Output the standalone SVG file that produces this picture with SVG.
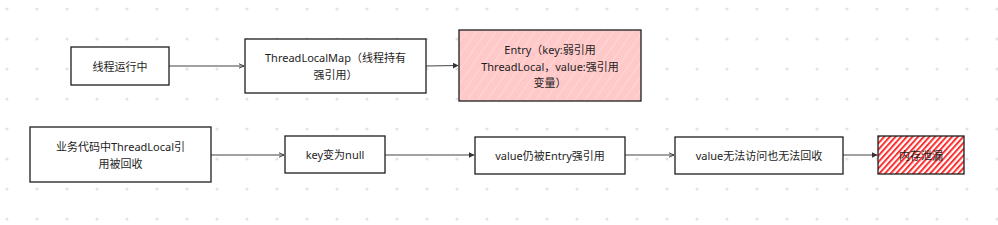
<svg xmlns="http://www.w3.org/2000/svg" width="998" height="225" viewBox="0 0 998 225">
<defs>
<pattern id="dots" x="7" y="9" width="30" height="30" patternUnits="userSpaceOnUse"><circle cx="0" cy="0" r="1.6" fill="#e3e3e3"/><circle cx="30" cy="0" r="1.6" fill="#e3e3e3"/><circle cx="0" cy="30" r="1.6" fill="#e3e3e3"/><circle cx="30" cy="30" r="1.6" fill="#e3e3e3"/></pattern>
<pattern id="pink" width="8" height="8" patternUnits="userSpaceOnUse" patternTransform="rotate(35)"><rect width="8" height="8" fill="#ffc9c9"/><line x1="0" y1="0" x2="0" y2="8" stroke="#ffe6e6" stroke-width="1"/></pattern>
<pattern id="red" width="4.2" height="4.2" patternUnits="userSpaceOnUse" patternTransform="rotate(42)"><rect width="4.2" height="4.2" fill="#ffffff"/><line x1="1" y1="0" x2="1" y2="4.2" stroke="#fa3030" stroke-width="2"/></pattern>
<marker id="af" viewBox="0 0 10 10" refX="9" refY="5" markerWidth="6" markerHeight="6" orient="auto" markerUnits="userSpaceOnUse"><path d="M0,0 L10,5 L0,10 Z" fill="#333"/></marker>
<marker id="ao" viewBox="0 0 10 10" refX="9" refY="5" markerWidth="6" markerHeight="6" orient="auto" markerUnits="userSpaceOnUse"><path d="M0,1 L9,5 L0,9 Z" fill="none" stroke="#333" stroke-width="1.5"/></marker>
</defs>
<style>
.box{fill:#ffffff;stroke:#1e1e1e;stroke-width:1.3}
.t{font-family:"Noto Sans","Noto Sans CJK SC",sans-serif;font-size:11px;fill:#1e1e1e;text-anchor:middle;dominant-baseline:central}
.c{fill:none;stroke:#444;stroke-width:1.1}
</style>
<rect width="998" height="225" fill="#ffffff"/>
<rect width="998" height="225" fill="url(#dots)"/>
<g id="connectors">
<path class="c" d="M169,66 L244,66" marker-end="url(#ao)"/>
<path class="c" d="M426,66 L458,65.5" marker-end="url(#af)"/>
<path class="c" d="M211,155 L284,155" marker-end="url(#ao)"/>
<path class="c" d="M385,155 L474,155" marker-end="url(#af)"/>
<path class="c" d="M625,155 L674,155" marker-end="url(#ao)"/>
<path class="c" d="M843,155 L877,155" marker-end="url(#af)"/>
</g>
<g id="n1"><rect class="box" x="71" y="47" width="98" height="38"/><text class="t" x="120" y="66">线程运行中</text></g>
<g id="n2"><rect class="box" x="245" y="39" width="181" height="54"/><text class="t" x="335.5" y="57.5">ThreadLocalMap（线程持有</text><text class="t" x="335.5" y="74.5">强引用）</text></g>
<g id="n3"><rect x="459" y="30" width="182" height="71" fill="url(#pink)" stroke="#1e1e1e" stroke-width="1.3"/><text class="t" x="550" y="49.5">Entry（key:弱引用</text><text class="t" x="550" y="66">ThreadLocal，value:强引用</text><text class="t" x="550" y="82">变量）</text></g>
<g id="n4"><rect class="box" x="30" y="127" width="181" height="55"/><text class="t" x="120.5" y="146">业务代码中ThreadLocal引</text><text class="t" x="120.5" y="163">用被回收</text></g>
<g id="n5"><rect class="box" x="285" y="136" width="100" height="37"/><text class="t" x="335" y="154.5">key变为null</text></g>
<g id="n6"><rect class="box" x="475" y="137" width="150" height="37"/><text class="t" x="550" y="155">value仍被Entry强引用</text></g>
<g id="n7"><rect class="box" x="675" y="137" width="168" height="37"/><text class="t" x="759" y="155">value无法访问也无法回收</text></g>
<g id="n8"><rect x="878" y="136" width="86" height="38" fill="url(#red)" stroke="#1e1e1e" stroke-width="1.3"/><text class="t" x="921" y="155">内存泄漏</text></g>
</svg>
